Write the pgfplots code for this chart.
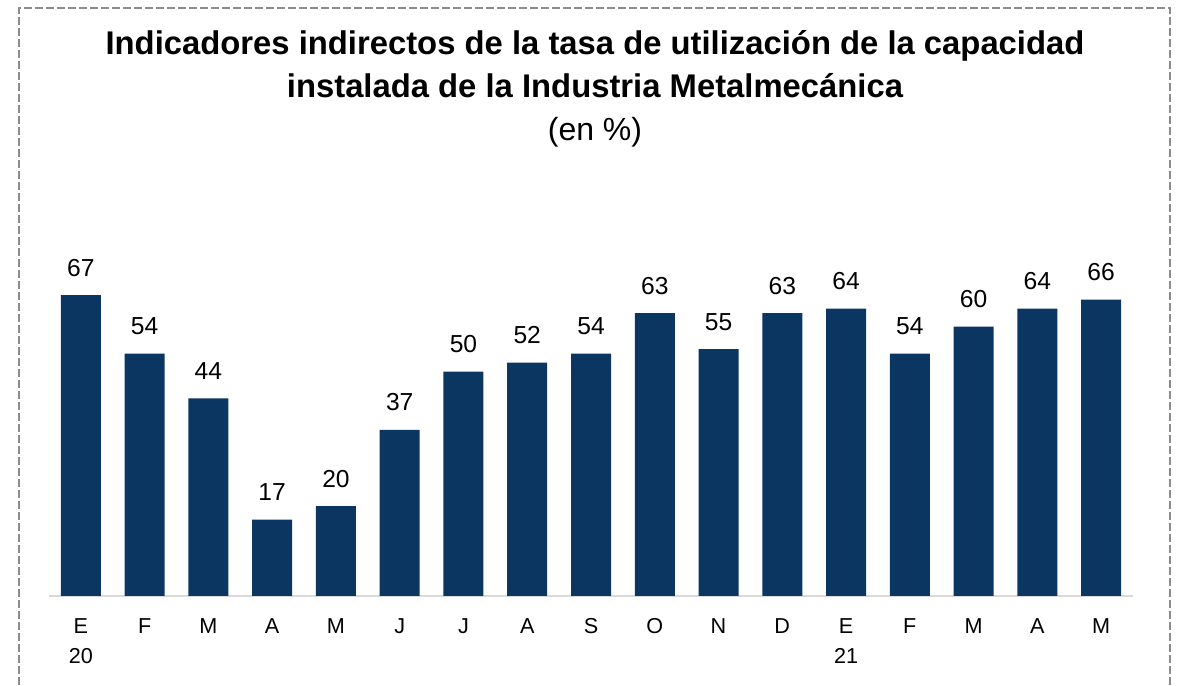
\documentclass[border=0pt]{standalone}
\usepackage{pgfplots}
\pgfplotsset{compat=1.18}
\usepackage{fontspec}
\setmainfont{Liberation Sans}
\definecolor{barblue}{HTML}{0B3662}
\definecolor{axisgray}{HTML}{D9D9D9}
\definecolor{bordergray}{HTML}{8C8C8C}
\begin{document}
\begin{tikzpicture}
\begin{axis}[
  at={(24.5pt,45pt)}, anchor=south west,
  scale only axis, width=542pt, height=179.6pt,
  xmin=-0.5, xmax=16.5, ymin=0, ymax=80,
  axis x line*=bottom, axis y line=none,
  x axis line style={axisgray, line width=1pt},
  ytick=\empty,
  xtick={0,...,16},
  xticklabels={{E\\20},F,M,A,M,J,J,A,S,O,N,D,{E\\21},F,M,A,M},
  major tick length=0pt,
  xticklabel style={anchor=north, align=center, inner sep=0pt, yshift=-11pt,
    font=\fontsize{10.8}{15}\selectfont},
  /pgf/number format/assume math mode=true,
  clip=false,
  ybar, bar width=20pt, bar shift=0pt,
  nodes near coords,
  every node near coord/.append style={anchor=base, yshift=9.5pt, inner sep=0pt,
    font=\fontsize{12.3}{14}\selectfont, black},
]
\addplot[fill=barblue, draw=none] coordinates {
(0,67) (1,54) (2,44) (3,17) (4,20) (5,37) (6,50) (7,52) (8,54)
(9,63) (10,55) (11,63) (12,64) (13,54) (14,60) (15,64) (16,66)};
\end{axis}
\node[anchor=base, font=\bfseries\fontsize{16.4}{19}\selectfont] at (297.5pt,315.5pt)
  {Indicadores indirectos de la tasa de utilización de la capacidad};
\node[anchor=base, font=\bfseries\fontsize{16.4}{19}\selectfont] at (297.5pt,294pt)
  {instalada de la Industria Metalmecánica};
\node[anchor=base, font=\fontsize{16}{19}\selectfont] at (297.5pt,272.5pt) {(en \%)};
\draw[bordergray, line width=1pt, dash pattern=on 4pt off 1.5pt]
  (9.5pt,-5pt) -- (9.5pt,339pt) -- (585pt,339pt) -- (585pt,-5pt);
\pgfresetboundingbox
\useasboundingbox (0,0) rectangle (590pt,343pt);
\end{tikzpicture}
\end{document}
